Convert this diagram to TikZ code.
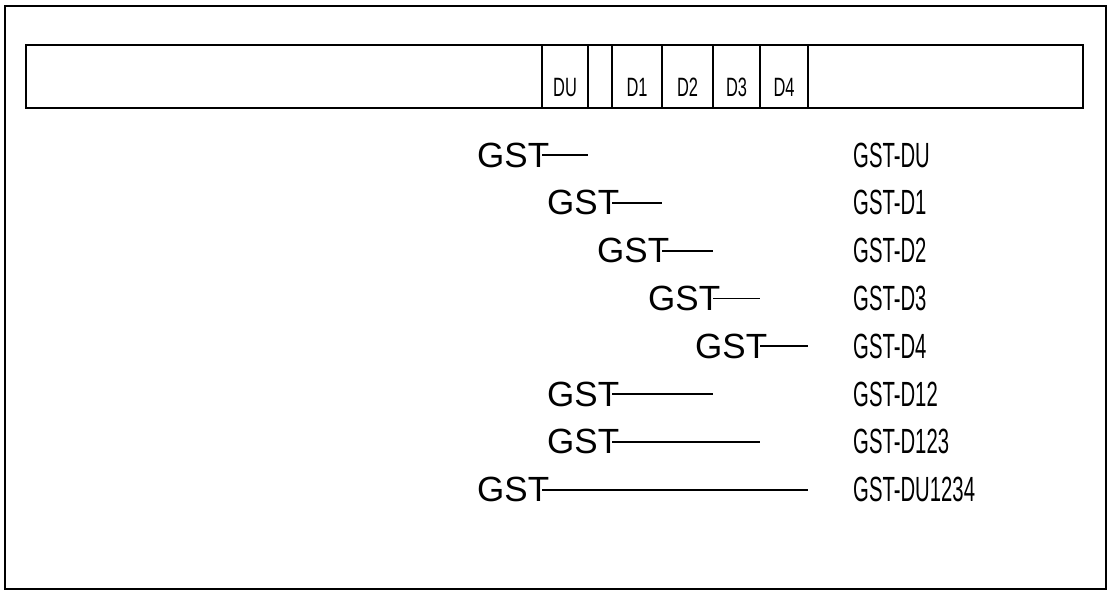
\documentclass[tikz,border=0pt]{standalone}
\usepackage{fontspec}
\setmainfont{Liberation Sans}
\newfontfamily\narrowfont[FakeStretch=0.58]{Liberation Sans}
\newfontfamily\cellfont[FakeStretch=0.62]{Liberation Sans}
\begin{document}
\begin{tikzpicture}[x=1pt,y=1pt,
  frame/.style={draw, line width=2.2pt},
  barbox/.style={draw, line width=2.4pt, inner sep=0pt},
  cellbox/.style={draw, line width=1.6pt, inner sep=0pt, minimum height=63pt},
  celltext/.style={inner sep=0pt, font=\cellfont\fontsize{26.5}{30}\selectfont},
  gsttext/.style={inner sep=0pt, anchor=west, font=\fontsize{35}{40}\selectfont},
  lbltext/.style={inner sep=0pt, anchor=west, font=\narrowfont\fontsize{35}{40}\selectfont},
  gstline/.style={line width=1.8pt}]
\useasboundingbox (0,0) rectangle (1109,-597);
% outer frame
\node[frame, inner sep=0pt, minimum width=1101pt, minimum height=583pt] (outer) at (555.5,-297.5) {};
% bar
\node[barbox, minimum width=1057pt, minimum height=63pt] (bar) at (554.5,-76.5) {};
% cells
\node[cellbox, minimum width=46pt] (cDU) at (565,-76.5) {};
\node[cellbox, minimum width=24pt] (cE) at (600,-76.5) {};
\node[cellbox, minimum width=50pt] (cD1) at (637,-76.5) {};
\node[cellbox, minimum width=51pt] (cD2) at (687.5,-76.5) {};
\node[cellbox, minimum width=47pt] (cD3) at (736.5,-76.5) {};
\node[cellbox, minimum width=48pt] (cD4) at (784,-76.5) {};
\node[celltext] (tDU) at ([yshift=-11pt]cDU.center) {DU};
\node[celltext] (tD1) at ([yshift=-11pt]cD1.center) {D1};
\node[celltext] (tD2) at ([yshift=-11pt]cD2.center) {D2};
\node[celltext] (tD3) at ([yshift=-11pt]cD3.center) {D3};
\node[celltext] (tD4) at ([yshift=-11pt]cD4.center) {D4};
% rows
\foreach \i/\l/\r/\txt in {1/542/588/GST-DU, 2/612/662/GST-D1, 3/662/713/GST-D2, 4/713/760/GST-D3, 5/760/808/GST-D4, 6/612/713/GST-D12, 7/612/760/GST-D123, 8/542/808/GST-DU1234}{
  \pgfmathsetmacro{\yy}{-155-47.8*(\i-1)}
  \node[gsttext] (g\i) at (\l-65,\yy) {GST};
  \coordinate (s\i) at (\l,\yy);
  \coordinate (e\i) at (\r,\yy);
  \draw[gstline] (s\i) -- (e\i);
  \node[lbltext] (n\i) at (853,\yy) {\txt};
}
\end{tikzpicture}
\end{document}
